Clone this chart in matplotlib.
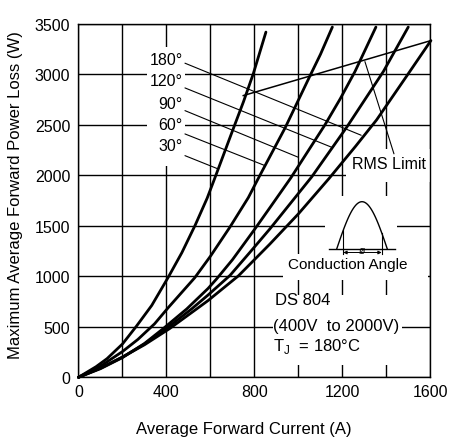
import numpy as np
import matplotlib
matplotlib.use("Agg")
import matplotlib.pyplot as plt
from matplotlib.patches import Rectangle

plt.rcParams['font.family'] = ['Liberation Sans', 'DejaVu Sans']

# ---- data ----
I_30 = [0, 80, 130, 200, 263, 333, 408, 470, 530, 585, 620, 704, 750, 795, 852]
P_30 = [0, 105, 185, 330, 505, 712, 991, 1235, 1505, 1775, 1975, 2465, 2730, 3010, 3420]
I_60 = [0, 100, 200, 270, 346, 408, 528, 600, 689, 772, 816, 939, 1052, 1100, 1154]
P_60 = [0, 110, 255, 375, 530, 690, 985, 1200, 1490, 1780, 1965, 2470, 2985, 3200, 3470]
I_90 = [0, 100, 200, 300, 384, 492, 589, 628, 700, 802, 870, 965, 1120, 1190, 1257, 1352]
P_90 = [0, 85, 195, 335, 480, 677, 880, 975, 1165, 1470, 1680, 1975, 2500, 2760, 3030, 3470]
I_120 = [0, 100, 200, 300, 398, 514, 589, 689, 780, 870, 1060, 1220, 1300, 1386, 1499]
P_120 = [0, 90, 200, 330, 480, 677, 815, 1010, 1240, 1470, 1985, 2480, 2745, 3030, 3470]
I_180 = [0, 100, 200, 300, 414, 537, 589, 727, 870, 1000, 1139, 1260, 1355, 1492, 1602]
P_180 = [0, 92, 200, 322, 482, 677, 760, 1005, 1320, 1620, 1970, 2290, 2550, 2985, 3336]

rms_I = [749, 1602]
rms_P = [2791, 3336]

angle_labels = ['180°', '120°', '90°', '60°', '30°']
label_P = [3150, 2937, 2709, 2500, 2292]
leader_start_P = [3112, 2867, 2642, 2411, 2196]
leader_end_I = [1285, 1151, 999, 848, 635]
leader_end_P = [2398, 2279, 2180, 2097, 2064]

x_ticks = [0, 200, 400, 600, 800, 1000, 1200, 1400, 1600]
x_tick_labels = ['0', '', '400', '', '800', '', '1200', '', '1600']
y_ticks = [0, 500, 1000, 1500, 2000, 2500, 3000, 3500]
y_tick_labels = ['0', '500', '1000', '1500', '2000', '2500', '3000', '3500']

fig = plt.figure(figsize=(4.51, 4.39), dpi=100)
ax = fig.add_axes([0.174, 0.1383, 0.7805, 0.8047])

ax.set_xlim(0, 1600)
ax.set_ylim(0, 3500)
ax.set_xticks(x_ticks)
ax.set_xticklabels(x_tick_labels)
ax.set_yticks(y_ticks)
ax.set_yticklabels(y_tick_labels)
ax.tick_params(length=0, labelsize=11.5, colors='black')
ax.tick_params(axis='y', pad=6)
ax.tick_params(axis='x', pad=5)
ax.grid(True, color='black', lw=1.0, zorder=0.5)
ax.set_axisbelow(True)
for s in ax.spines.values():
    s.set_linewidth(1.0)
    s.set_color('black')

# white boxes that hide gridlines behind text
boxes = [(312, 2090, 172, 1180),      # angle labels
         (1216, 1932, 400, 328),      # RMS Limit
         (1120, 1222, 326, 575),      # inset
         (930, 964, 659, 258),        # Conduction Angle
         (884, 122, 586, 694)]        # DS 804 block
for (x0, y0, w, h) in boxes:
    ax.add_patch(Rectangle((x0, y0), w, h, facecolor='white', edgecolor='none', zorder=1))

# curves
for I, P in [(I_30, P_30), (I_60, P_60), (I_90, P_90), (I_120, P_120), (I_180, P_180)]:
    ax.plot(I, P, color='black', lw=2.0, zorder=3, solid_capstyle='round',
            solid_joinstyle='round', clip_on=False)

ax.plot(rms_I, rms_P, color='black', lw=1.1, zorder=3)

# angle labels and leaders
for lab, ly, sy, ex, ey in zip(angle_labels, label_P, leader_start_P, leader_end_I, leader_end_P):
    ax.text(475, ly, lab, ha='right', va='center', fontsize=11.5, zorder=4)
    ax.annotate('', xy=(ex, ey), xytext=(484, sy),
                arrowprops=dict(arrowstyle='-', lw=0.8, color='black', shrinkA=0, shrinkB=0),
                zorder=3)

# RMS limit
ax.text(1411, 2122, 'RMS Limit', ha='center', va='center', fontsize=11.5, zorder=4)
ax.annotate('', xy=(1434, 2214), xytext=(1302, 3128),
            arrowprops=dict(arrowstyle='-', lw=0.8, color='black', shrinkA=0, shrinkB=0),
            zorder=3)

# conduction angle inset diagram
ins = ax.inset_axes([0.7003, 0.3405, 0.2131, 0.1698])
ins.set_xlim(0, 1)
ins.set_ylim(0, 1)
ins.axis('off')
ins.patch.set_alpha(0)
u = np.linspace(0.156, 0.831, 80)
base = 0.133
ins.plot(u, base + 0.789 * np.sin(np.pi * (u - 0.156) / (0.831 - 0.156)), color='black', lw=1.0)
ins.plot([0.057, 0.933], [base, base], color='black', lw=1.0)
for uc in (0.244, 0.756):
    vc = base + 0.789 * np.sin(np.pi * (uc - 0.156) / (0.831 - 0.156))
    ins.plot([uc, uc], [0.05, vc], color='black', lw=0.8)
ins.annotate('', xy=(0.244, 0.075), xytext=(0.756, 0.075),
             arrowprops=dict(arrowstyle='<|-|>', lw=0.7, color='black', shrinkA=0, shrinkB=0,
                             mutation_scale=5))
ins.text(0.49, 0.11, 'ø', ha='center', va='center', fontsize=7.5)

ax.text(1223, 1125, 'Conduction Angle', ha='center', va='center', fontsize=11, zorder=4)

ax.text(894, 771, 'DS 804', ha='left', va='center', fontsize=12, zorder=4)
ax.text(885, 513, '(400V  to 2000V)', ha='left', va='center', fontsize=12, zorder=4)
ax.text(884, 310, r'T$_\mathregular{J}$  = 180°C', ha='left', va='center', fontsize=12, zorder=4)

ax.set_xlabel('Average Forward Current (A)', fontsize=12)
ax.set_ylabel('Maximum Average Forward Power Loss (W)', fontsize=12)
ax.xaxis.set_label_coords(0.470, -0.123)
ax.yaxis.set_label_coords(-0.158, 0.519)

fig.savefig('out.png', dpi=100)
